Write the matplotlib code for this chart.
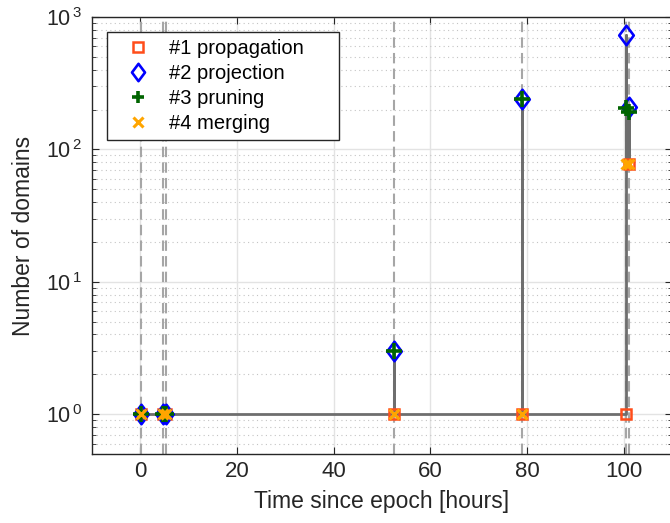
import numpy as np
import matplotlib
matplotlib.use('Agg')
import matplotlib.pyplot as plt
from matplotlib.lines import Line2D
from matplotlib.path import Path
from matplotlib.ticker import LogLocator, NullFormatter, FixedLocator

plt.rcParams['font.family'] = ['Liberation Sans', 'DejaVu Sans']
plt.rcParams['mathtext.fontset'] = 'custom'
plt.rcParams['mathtext.rm'] = 'Liberation Sans'
plt.rcParams['mathtext.it'] = 'Liberation Sans'

# event times [hours] and domain counts after each step
t_event = [0.2, 4.6, 5.3, 52.5, 79.0, 100.4, 101.2]
n_prop = [1, 1, 1, 1, 1, 1, 77]
n_proj = [1, 1, 1, 3, 240, 730, 210]
n_prune = [1, 1, 1, 3, 240, 205, 190]
n_merge = [1, 1, 1, 1, 1, 77, 77]

labels = ['#1 propagation', '#2 projection', '#3 pruning', '#4 merging']

# path through every step, in order
path_t = []
path_n = []
for i, t in enumerate(t_event):
    for n in (n_prop[i], n_proj[i], n_prune[i], n_merge[i]):
        path_t.append(t)
        path_n.append(n)

# matlab-like diamond (a bit narrower than tall)
diamond = Path([(0, 1), (0.75, 0), (0, -1), (-0.75, 0), (0, 1)],
               [Path.MOVETO, Path.LINETO, Path.LINETO, Path.LINETO, Path.CLOSEPOLY])

# marker styles
sq = dict(marker='s', ms=7.5, mfc='none', mec='#ff4d1a', mew=1.8)
dm = dict(marker=diamond, ms=14, mfc='none', mec='#0000ff', mew=1.9)
pl = dict(marker='+', ms=11, mec='#006400', mew=2.6)
xx = dict(marker='x', ms=7, mec='#ffa500', mew=2.2)

fig = plt.figure(figsize=(6.7, 5.23), dpi=100)
ax = fig.add_axes([92 / 670, 1 - 454 / 523, 580 / 670, 437 / 523])

for t in t_event:
    ax.axvline(t, color='#a6a6a6', lw=1.5, ls=(0, (5, 2.5)), zorder=1)

ax.plot(path_t, path_n, color='#6e6e6e', lw=2, zorder=2)

ax.plot(t_event, n_prop, ls='none', zorder=3, **sq)
ax.plot(t_event, n_proj, ls='none', zorder=4, **dm)
ax.plot(t_event, n_prune, ls='none', zorder=5, **pl)
ax.plot(t_event, n_merge, ls='none', zorder=6, **xx)

ax.set_yscale('log')
ax.set_xlim(-10, 110)
ax.set_ylim(0.5, 1000)
ax.set_xticks([0, 20, 40, 60, 80, 100])
ax.yaxis.set_major_locator(FixedLocator([1, 10, 100, 1000]))
ax.set_yticklabels([r'$10^{\,0}$', r'$10^{\,1}$', r'$10^{\,2}$', r'$10^{\,3}$'])
ax.yaxis.set_minor_locator(LogLocator(base=10, subs=np.arange(2, 10), numticks=20))
ax.yaxis.set_minor_formatter(NullFormatter())

ax.grid(True, which='major', color='#e3e3e3', lw=1, zorder=0)
ax.grid(True, which='minor', axis='y', color='#c4c4c4', lw=0.8, ls=(0, (1, 3)), zorder=0)
ax.set_axisbelow(True)

ax.tick_params(which='both', direction='in', top=True, right=True, colors='#262626',
               labelcolor='#262626')
ax.tick_params(axis='x', labelsize=16, pad=5)
ax.tick_params(axis='y', labelsize=15.5, pad=7)
ax.tick_params(which='major', length=5)
ax.tick_params(which='minor', length=3)
for s in ax.spines.values():
    s.set_color('#262626')
    s.set_linewidth(1)

ax.set_xlabel('Time since epoch [hours]', fontsize=16.5, color='#262626', labelpad=6)
ax.set_ylabel('Number of domains', fontsize=16.5, color='#262626', labelpad=8)

handles = [Line2D([], [], ls='none', **sq), Line2D([], [], ls='none', **dm),
           Line2D([], [], ls='none', **pl), Line2D([], [], ls='none', **xx)]
handles[1].set_markersize(12.5)
handles[2].set_markersize(9)
# trailing spaces widen the box like the matlab legend
leg_labels = [labels[0] + '     '] + labels[1:]
leg = ax.legend(handles, leg_labels, loc='upper left', bbox_to_anchor=(0.0259, 0.9657),
                fontsize=14.5, frameon=True, fancybox=False, framealpha=1,
                edgecolor='#262626', borderpad=0.35, handlelength=2.4,
                handletextpad=0.35, labelspacing=0.3, borderaxespad=0)
leg.get_frame().set_linewidth(1)

fig.savefig('out.png', dpi=100)
